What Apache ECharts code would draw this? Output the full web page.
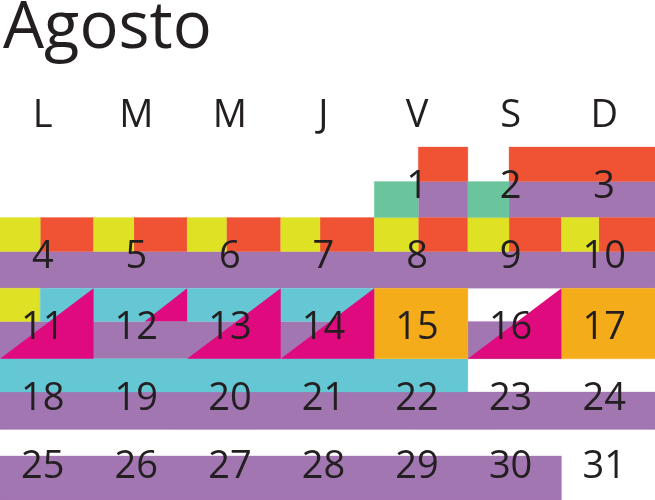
<!DOCTYPE html>
<html lang="es">
<head>
    <meta charset="UTF-8">
    <title>Agosto</title>
    <script type="text/javascript" src="https://cdn.jsdelivr.net/npm/echarts@6.0.0/dist/echarts.min.js"></script>
    <style>
        html, body { margin: 0; padding: 0; background: #fff; }
    </style>
</head>
<body>
<div id="main" style="width: 655px;height:500px;"></div>
<script type="text/javascript">
    // columnas = dias de la semana (0..7), filas = semanas (0..5)
    var weekDays = ['L', 'M', 'M', 'J', 'V', 'S', 'D'];
    var dayCount = 31;
    var firstCol = 4; // el 1 de agosto cae en viernes

    // rectangulos: [x0, x1, y0, y1]
    var purpleRects = [
        [4.47, 5, 0.49, 1], [5.44, 7, 0.49, 1],
        [0, 7, 1.48, 2],
        [0, 4, 2.47, 3], [5, 6, 2.47, 3],
        [0, 7, 3.47, 4],
        [0, 6, 4.375, 5]
    ];
    var orangeRects = [
        [4.47, 5, 0, 0.49], [5.44, 7, 0, 0.49],
        [0.43, 1, 1, 1.48], [1.43, 2, 1, 1.48], [2.42, 3, 1, 1.48], [3.42, 4, 1, 1.48],
        [4.47, 5, 1, 1.48], [5.44, 6, 1, 1.48], [6.4, 7, 1, 1.48]
    ];
    var yellowRects = [
        [0, 0.43, 1, 1.48], [1, 1.43, 1, 1.48], [2, 2.42, 1, 1.48], [3, 3.42, 1, 1.48],
        [4, 4.47, 1, 1.48], [5, 5.44, 1, 1.48], [6, 6.4, 1, 1.48],
        [0, 0.43, 2, 2.47]
    ];
    var greenRects = [
        [4, 4.47, 0.49, 1], [5, 5.44, 0.49, 1]
    ];
    var cyanRects = [
        [0.43, 4, 2, 2.47],
        [0, 5, 3, 3.47]
    ];
    var amberRects = [
        [4, 5, 2, 3], [6, 7, 2, 3]
    ];
    // triangulos: [x0, y0, x1, y1, x2, y2]
    var magentaTris = [
        [1, 2, 1, 3, 0, 3],
        [2, 2, 2, 2.47, 1.545, 2.47],
        [3, 2, 3, 3, 2, 3],
        [4, 2, 4, 3, 3, 3],
        [6, 2, 6, 3, 5, 3]
    ];

    var palette = {
        purple: '#A276B1',
        orange: '#F05234',
        yellow: '#DFE125',
        green: '#6AC49C',
        cyan: '#64C7D3',
        amber: '#F5AC1A',
        magenta: '#DF0A7E'
    };
    var txtColor = '#231F20';
    var fontFam = '"Open Sans", sans-serif';

    // armar datos con el color (indice) al final
    var colorList = [];
    var rectData = [];
    function addRects(arr, color) {
        var idx = colorList.length;
        colorList.push(color);
        for (var i = 0; i < arr.length; i++) {
            rectData.push(arr[i].concat(idx));
        }
    }
    addRects(purpleRects, palette.purple);
    addRects(orangeRects, palette.orange);
    addRects(yellowRects, palette.yellow);
    addRects(greenRects, palette.green);
    addRects(cyanRects, palette.cyan);
    addRects(amberRects, palette.amber);

    var dayData = [];
    for (var d = 1; d <= dayCount; d++) {
        var k = d - 1 + firstCol;
        var row = Math.floor(k / 7);
        dayData.push([k % 7 + 0.457, row + (row === 4 ? 0.53 : 0.565), d]);
    }
    var headData = weekDays.map(function (w, i) {
        return [i + 0.457, -0.43, w];
    });

    var myChart = echarts.init(document.getElementById('main'));

    function textItem(params, api) {
        var p = api.coord([api.value(0), api.value(1)]);
        return {
            type: 'text',
            x: p[0], y: p[1],
            style: {
                text: String(api.value(2)),
                fill: txtColor,
                font: '38px ' + fontFam,
                align: 'center',
                verticalAlign: 'middle'
            }
        };
    }

    var option = {
        animation: false,
        title: {
            text: 'Agosto',
            left: -2,
            top: -8,
            textStyle: {
                fontFamily: fontFam,
                fontSize: 65,
                fontWeight: 'normal',
                color: txtColor
            }
        },
        grid: { left: 0, right: 0, top: 147, height: 360 },
        xAxis: { type: 'value', min: 0, max: 7, show: false },
        yAxis: { type: 'value', min: 0, max: 5, inverse: true, show: false },
        series: [{
            type: 'custom',
            data: rectData,
            renderItem: function (params, api) {
                var p0 = api.coord([api.value(0), api.value(2)]);
                var p1 = api.coord([api.value(1), api.value(3)]);
                var c = colorList[api.value(4)];
                return {
                    type: 'rect',
                    shape: { x: p0[0], y: p0[1], width: p1[0] - p0[0], height: p1[1] - p0[1] },
                    style: { fill: c, stroke: c, lineWidth: 0.3 }
                };
            }
        }, {
            type: 'custom',
            data: magentaTris,
            renderItem: function (params, api) {
                var pts = [];
                for (var j = 0; j < 3; j++) {
                    pts.push(api.coord([api.value(j * 2), api.value(j * 2 + 1)]));
                }
                return {
                    type: 'polygon',
                    shape: { points: pts },
                    style: { fill: palette.magenta }
                };
            }
        }, {
            type: 'custom',
            data: dayData,
            renderItem: textItem
        }, {
            type: 'custom',
            data: headData,
            renderItem: textItem
        }]
    };
    myChart.setOption(option);
</script>
</body>
</html>
